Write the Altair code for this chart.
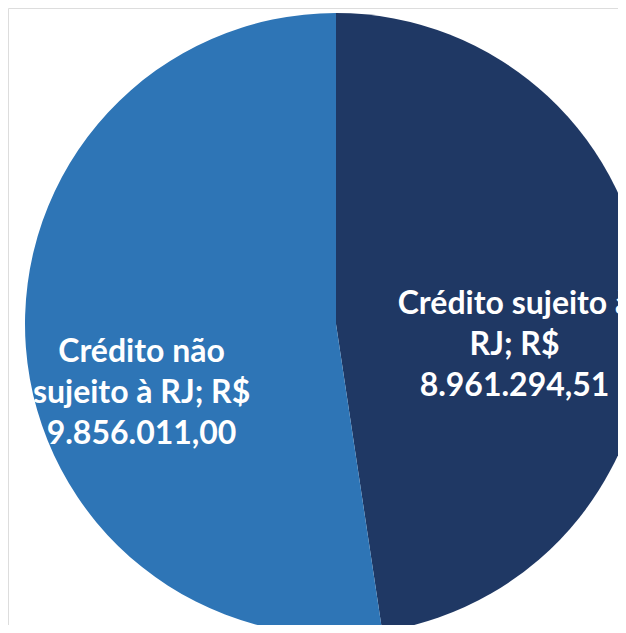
import altair as alt
import pandas as pd

categories = ["Crédito sujeito à RJ", "Crédito não sujeito à RJ"]
values = [8961294.51, 9856011.00]
labels = ["Crédito sujeito à\nRJ; R$\n8.961.294,51", "Crédito não\nsujeito à RJ; R$\n9.856.011,00"]
order = [0, 1]
colors = ["#1F3864", "#2E75B6"]

df = pd.DataFrame({"cat": categories, "value": values, "label": labels, "ord": order})
total = sum(values)

cx, cy, r = 328, 316, 311

theta_scale = alt.Scale(domain=[0, total], range=[0, 6.283185307179586])

base = alt.Chart(df).transform_window(
    cum="sum(value)", sort=[alt.SortField("ord")]
).transform_calculate(
    start="datum.cum - datum.value", mid="datum.cum - datum.value / 2"
)

pie = base.mark_arc(clip=True).encode(
    theta=alt.Theta("start:Q", scale=theta_scale),
    theta2="cum:Q",
    color=alt.Color("cat:N", scale=alt.Scale(domain=categories, range=colors), legend=None),
    x=alt.value(cx), y=alt.value(cy), radius=alt.value(r),
)

def lab(i, rad, dx, dy):
    return base.transform_filter(alt.datum.ord == i).mark_text(
        lineBreak="\n", lineHeight=41, font="Lato", fontWeight="bold", fontSize=32,
        color="white", align="center", baseline="middle", dx=dx, dy=dy, clip=True,
    ).encode(
        theta=alt.Theta("mid:Q", scale=theta_scale),
        text="label:N", x=alt.value(cx), y=alt.value(cy), radius=alt.value(rad),
    )

t1 = lab(0, 180, -1, -7)
t2 = lab(1, 200, 5, 13)

chart = alt.layer(pie, t1, t2).properties(
    width=610, height=617, autosize=alt.AutoSizeParams(type="none"), padding=0,
).configure_view(stroke="transparent", strokeWidth=0).configure(background="white")

chart.save("out.html", embed_options={"renderer": "svg", "actions": False})
